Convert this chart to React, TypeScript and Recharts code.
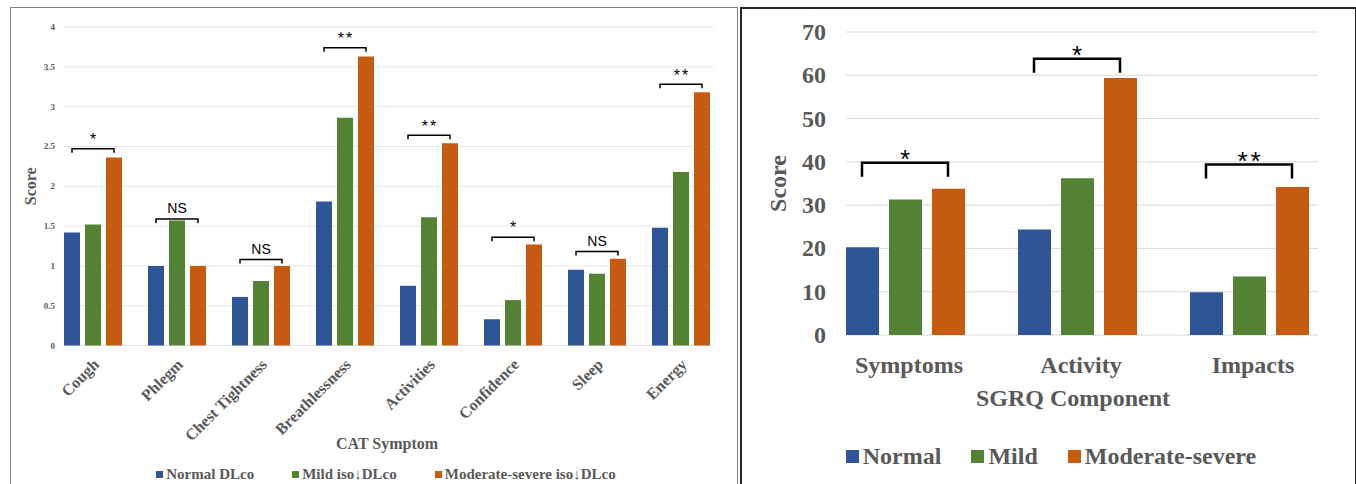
import React from "react";
import { ComposedChart, Bar, Line, XAxis, YAxis, CartesianGrid, Legend } from "recharts";

// CAT symptom panel
const catSymptoms = ["Cough", "Phlegm", "Chest Tightness", "Breathlessness", "Activities", "Confidence", "Sleep", "Energy"];
const catNormal = [1.42, 1.0, 0.61, 1.81, 0.75, 0.33, 0.95, 1.48];
const catMild = [1.52, 1.57, 0.81, 2.86, 1.61, 0.57, 0.9, 2.18];
const catModerate = [2.36, 1.0, 1.0, 3.63, 2.54, 1.27, 1.09, 3.18];
const catBracket = [2.47, 1.59, 1.08, 3.74, 2.64, 1.36, 1.18, 3.28];
const catSig = ["*", "NS", "NS", "**", "**", "*", "NS", "**"];
const catTicks = [0, 0.5, 1, 1.5, 2, 2.5, 3, 3.5, 4];
const catLegend = ["Normal DLco", "Mild iso\u2193DLco", "Moderate-severe iso\u2193DLco"];

// SGRQ component panel
const sgrqComponents = ["Symptoms", "Activity", "Impacts"];
const sgrqNormal = [20.3, 24.4, 9.9];
const sgrqMild = [31.3, 36.2, 13.5];
const sgrqModerate = [33.8, 59.4, 34.2];
const sgrqBracket = [39.8, 63.8, 39.4];
const sgrqSig = ["*", "*", "**"];
const sgrqTicks = [0, 10, 20, 30, 40, 50, 60, 70];
const sgrqLegend = ["Normal", "Mild", "Moderate-severe"];

const BLUE = "#2F5597";
const GREEN = "#548235";
const ORANGE = "#C55A11";
const colors = [BLUE, GREEN, ORANGE];
const SERIF = "'Liberation Serif', 'Times New Roman', serif";
const SANS = "'Liberation Sans', Arial, sans-serif";
const TEXT = "#595959";

const catData = catSymptoms.map((name, i) => ({
  name,
  normal: catNormal[i],
  mild: catMild[i],
  moderate: catModerate[i],
  bracket: catBracket[i],
  sig: catSig[i],
}));

const sgrqData = sgrqComponents.map((name, i) => ({
  name,
  normal: sgrqNormal[i],
  mild: sgrqMild[i],
  moderate: sgrqModerate[i],
  bracket: sgrqBracket[i],
  sig: sgrqSig[i],
}));

const insetGrid = (l: number, r: number, color: string) => (props: any) => (
  <line key={props.key} x1={props.x1 + l} x2={props.x2 - r} y1={props.y1} y2={props.y2} stroke={color} strokeWidth={1} />
);

// bracket + significance mark drawn at the bracket point of each category
const bracketDot = (o: any) => (props: any) => {
  const { cx, cy, payload, index } = props;
  if (cx == null || cy == null) return <g key={index} />;
  const isNS = payload.sig === "NS";
  const fs = isNS ? o.nsSize : o.starSize;
  const base = isNS ? cy - o.nsGap + 0.36 * fs : cy - o.starGap + 0.58 * fs;
  return (
    <g key={index}>
      <path
        d={`M${cx - o.halfW},${cy + o.leg} V${cy} H${cx + o.halfW} V${cy + o.leg}`}
        fill="none"
        stroke="#000"
        strokeWidth={o.sw}
      />
      <text
        x={cx + (isNS ? 0 : o.spacing / 2)}
        y={base}
        textAnchor="middle"
        fontFamily={SANS}
        fontSize={fs}
        letterSpacing={isNS ? 0 : o.spacing}
        fill="#000"
      >
        {payload.sig}
      </text>
    </g>
  );
};

const legendContent = (labels: string[], opts: any) => () => (
  <div
    style={{
      display: "flex",
      justifyContent: "center",
      paddingLeft: opts.shift,
      fontFamily: SERIF,
      fontWeight: "bold",
      fontSize: opts.fontSize,
      color: TEXT,
      height: opts.height,
      alignItems: "center",
      whiteSpace: "nowrap",
    }}
  >
    {labels.map((l, i) => (
      <span key={l} style={{ display: "flex", alignItems: "center", marginLeft: i === 0 ? 0 : opts.gap }}>
        <span style={{ width: opts.sq, height: opts.sq, background: colors[i], marginRight: opts.sqGap, display: "inline-block" }} />
        {l}
      </span>
    ))}
  </div>
);

function CatChart() {
  return (
    <ComposedChart
      width={726}
      height={476}
      data={catData}
      margin={{ top: 19, right: 14, bottom: 0, left: 0 }}
      barGap={5}
      barSize={16}
    >
      <CartesianGrid vertical={false} horizontal={insetGrid(13, 9, "#e6e6e6")} />
      <XAxis
        dataKey="name"
        height={118.5}
        axisLine={false}
        tickLine={false}
        tickSize={0}
        tickMargin={0}
        interval={0}
        tick={(p: any) => (
          <text
            x={p.x + 7}
            y={p.y + 20}
            textAnchor="end"
            transform={`rotate(-45, ${p.x + 7}, ${p.y + 20})`}
            fontFamily={SERIF}
            fontWeight="bold"
            fontSize={16}
            fill={TEXT}
          >
            {p.payload.value}
          </text>
        )}
        label={(p: any) => (
          <text
            x={p.viewBox.x + p.viewBox.width / 2}
            y={p.viewBox.y + 98}
            textAnchor="middle"
            dominantBaseline="central"
            fontFamily={SERIF}
            fontWeight="bold"
            fontSize={16}
            fill={TEXT}
          >
            CAT Symptom
          </text>
        )}
      />
      <YAxis
        width={40}
        domain={[0, 4]}
        ticks={catTicks}
        axisLine={false}
        tickLine={false}
        tickSize={0}
        tickMargin={0}
        tick={(p: any) => (
          <text x={p.x + 4} y={p.y} textAnchor="end" dominantBaseline="central" fontFamily={SERIF} fontWeight="bold" fontSize={9} fill={TEXT}>
            {p.payload.value}
          </text>
        )}
        label={(p: any) => (
          <text
            x={19}
            y={p.viewBox.y + p.viewBox.height / 2}
            textAnchor="middle"
            dominantBaseline="central"
            transform={`rotate(-90, 19, ${p.viewBox.y + p.viewBox.height / 2})`}
            fontFamily={SERIF}
            fontWeight="bold"
            fontSize={16}
            fill={TEXT}
          >
            Score
          </text>
        )}
      />
      <Bar dataKey="normal" name={catLegend[0]} fill={BLUE} isAnimationActive={false} />
      <Bar dataKey="mild" name={catLegend[1]} fill={GREEN} isAnimationActive={false} />
      <Bar dataKey="moderate" name={catLegend[2]} fill={ORANGE} isAnimationActive={false} />
      <Line
        dataKey="bracket"
        stroke="none"
        legendType="none"
        activeDot={false}
        dot={bracketDot({ halfW: 21, leg: 4, sw: 1.5, starSize: 16, nsSize: 14, starGap: 13, nsGap: 11, spacing: 2 })}
        isAnimationActive={false}
      />
      <Legend
        verticalAlign="bottom"
        wrapperStyle={{ left: 0, width: 726 }}
        content={legendContent(catLegend, { shift: 24, fontSize: 15, height: 20, gap: 38, sq: 7, sqGap: 3 })}
      />
    </ComposedChart>
  );
}

function SgrqChart() {
  return (
    <ComposedChart
      width={613}
      height={476}
      data={sgrqData}
      margin={{ top: 24, right: 19, bottom: 13, left: 0 }}
      barGap={10}
      barSize={33}
    >
      <CartesianGrid vertical={false} horizontal={insetGrid(27, 17, "#d9d9d9")} />
      <XAxis
        dataKey="name"
        height={106}
        axisLine={false}
        tickLine={false}
        tickSize={0}
        tickMargin={0}
        interval={0}
        tick={(p: any) => (
          <text x={p.x + 4} y={p.y + 30} textAnchor="middle" dominantBaseline="central" fontFamily={SERIF} fontWeight="bold" fontSize={24} fill={TEXT}>
            {p.payload.value}
          </text>
        )}
        label={(p: any) => (
          <text
            x={p.viewBox.x + p.viewBox.width / 2 - 4}
            y={p.viewBox.y + 63}
            textAnchor="middle"
            dominantBaseline="central"
            fontFamily={SERIF}
            fontWeight="bold"
            fontSize={24}
            fill={TEXT}
          >
            SGRQ Component
          </text>
        )}
      />
      <YAxis
        width={78}
        domain={[0, 70]}
        ticks={sgrqTicks}
        axisLine={false}
        tickLine={false}
        tickSize={0}
        tickMargin={0}
        tick={(p: any) => (
          <text x={p.x + 7} y={p.y} textAnchor="end" dominantBaseline="central" fontFamily={SERIF} fontWeight="bold" fontSize={24} fill={TEXT}>
            {p.payload.value}
          </text>
        )}
        label={(p: any) => (
          <text
            x={37}
            y={p.viewBox.y + p.viewBox.height / 2}
            textAnchor="middle"
            dominantBaseline="central"
            transform={`rotate(-90, 37, ${p.viewBox.y + p.viewBox.height / 2})`}
            fontFamily={SERIF}
            fontWeight="bold"
            fontSize={24}
            fill={TEXT}
          >
            Score
          </text>
        )}
      />
      <Bar dataKey="normal" name={sgrqLegend[0]} fill={BLUE} isAnimationActive={false} />
      <Bar dataKey="mild" name={sgrqLegend[1]} fill={GREEN} isAnimationActive={false} />
      <Bar dataKey="moderate" name={sgrqLegend[2]} fill={ORANGE} isAnimationActive={false} />
      <Line
        dataKey="bracket"
        stroke="none"
        legendType="none"
        activeDot={false}
        dot={bracketDot({ halfW: 43, leg: 14, sw: 2.5, starSize: 26, nsSize: 22, starGap: 10, nsGap: 11, spacing: 3 })}
        isAnimationActive={false}
      />
      <Legend
        verticalAlign="bottom"
        wrapperStyle={{ left: 0, width: 613 }}
        content={legendContent(sgrqLegend, { shift: 7, fontSize: 24, height: 30, gap: 30, sq: 13, sqGap: 4 })}
      />
    </ComposedChart>
  );
}

export default function App() {
  return (
    <div style={{ position: "absolute", left: 0, top: 0, width: 1356, height: 484, background: "#fff", overflow: "hidden" }}>
      <div style={{ position: "absolute", left: 10, top: 7, width: 726, height: 490, border: "1px solid #7f7f7f" }} />
      <div style={{ position: "absolute", left: 740, top: 7, width: 613, height: 490, border: "2px solid #222" }} />
      <div style={{ position: "absolute", left: 11, top: 8 }}>
        <CatChart />
      </div>
      <div style={{ position: "absolute", left: 741, top: 8 }}>
        <SgrqChart />
      </div>
    </div>
  );
}
